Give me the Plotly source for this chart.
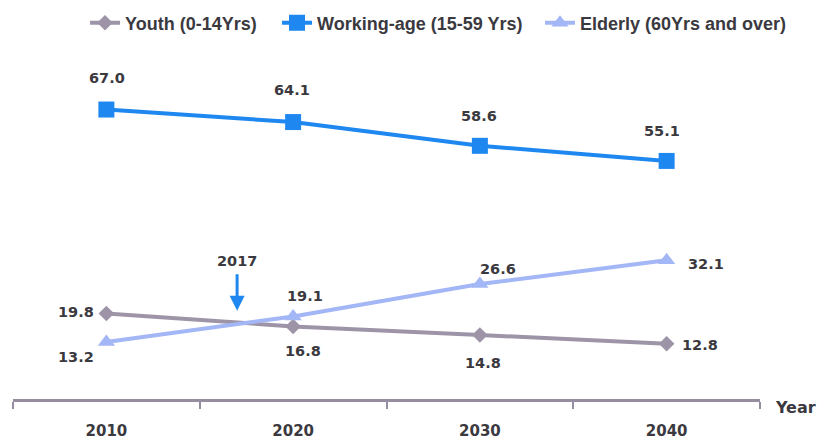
import plotly.graph_objects as go

# Population share by age group (%)
years = [2010, 2020, 2030, 2040]
youth = [19.8, 16.8, 14.8, 12.8]
working_age = [67.0, 64.1, 58.6, 55.1]
elderly = [13.2, 19.1, 26.6, 32.1]

crossover_year = 2017
crossover_value = 20.4
tick_labels = ["2010", "2020", "2030", "2040"]

TEXT = "#3b3940"
LABEL_FONT = dict(family="DejaVu Sans", size=14.5, color=TEXT)

fig = go.Figure()

series = [
    dict(name="Youth (0-14Yrs)", y=youth, color="#9e94a7",
         symbol="diamond", size=12, lw=147,
         offsets=[(-30, 1), (10, -25), (3, -28), (33, -1)]),
    dict(name="Working-age (15-59 Yrs)", y=working_age, color="#1e88f0",
         symbol="square", size=16, lw=218,
         offsets=[(1, 32), (-1, 32), (-1, 30), (-5, 30)]),
    dict(name="Elderly (60Yrs and over)", y=elderly, color="#a3b6f5",
         symbol="triangle-up", size=15, lw=210,
         offsets=[(-30, -15), (12, 20), (18, 15), (39, -4)]),
]

for s in series:
    fig.add_trace(go.Scatter(
        x=years, y=s["y"], name=s["name"], mode="lines+markers",
        line=dict(color=s["color"], width=4),
        marker=dict(symbol=s["symbol"], size=s["size"], color=s["color"]),
        legendwidth=s["lw"],
        hoverinfo="skip",
    ))
    for xv, yv, (dx, dy) in zip(years, s["y"], s["offsets"]):
        fig.add_annotation(
            x=xv, y=yv, text=f"<b>{yv:.1f}</b>", showarrow=False,
            xanchor="center", yanchor="middle", xshift=dx, yshift=dy,
            font=LABEL_FONT,
        )

# Crossover marker
fig.add_annotation(
    x=crossover_year, y=crossover_value, text=f"<b>{crossover_year}</b>",
    showarrow=True, ax=0, ay=-50, arrowhead=2, arrowsize=1, arrowwidth=3,
    arrowcolor="#1e88f0", startstandoff=4, font=LABEL_FONT,
)

# Axis title at the right end of the x axis
fig.add_annotation(
    xref="paper", yref="paper", x=1.047, y=-0.024, text="<b>Year</b>",
    showarrow=False, xanchor="center", yanchor="middle",
    font=dict(family="DejaVu Sans", size=16, color=TEXT),
)

fig.update_layout(
    width=817, height=439,
    margin=dict(l=13, r=57, t=62, b=40, autoexpand=False),
    paper_bgcolor="white", plot_bgcolor="white",
    showlegend=True,
    legend=dict(
        orientation="h", xref="container", yref="container",
        x=85 / 817, xanchor="left", y=1 - 23 / 439, yanchor="middle",
        font=dict(family="Liberation Sans", size=18, color=TEXT, weight="bold"),
        bgcolor="rgba(0,0,0,0)", itemclick=False,
    ),
    xaxis=dict(
        range=[2005, 2045], tickvals=years, ticktext=[f"<b>{t}</b>" for t in tick_labels],
        ticks="", showgrid=False, zeroline=False, automargin=False,
        showline=True, linecolor="#978da1", linewidth=3,
        tickfont=dict(family="DejaVu Sans", size=15, color=TEXT),
        ticklabelstandoff=16,
        minor=dict(tick0=2005, dtick=10, ticks="outside", ticklen=7,
                   tickwidth=2, tickcolor="#978da1", showgrid=False),
    ),
    yaxis=dict(range=[0, 78], visible=False, showgrid=False, zeroline=False,
               automargin=False),
)

fig.write_html("out.html")
